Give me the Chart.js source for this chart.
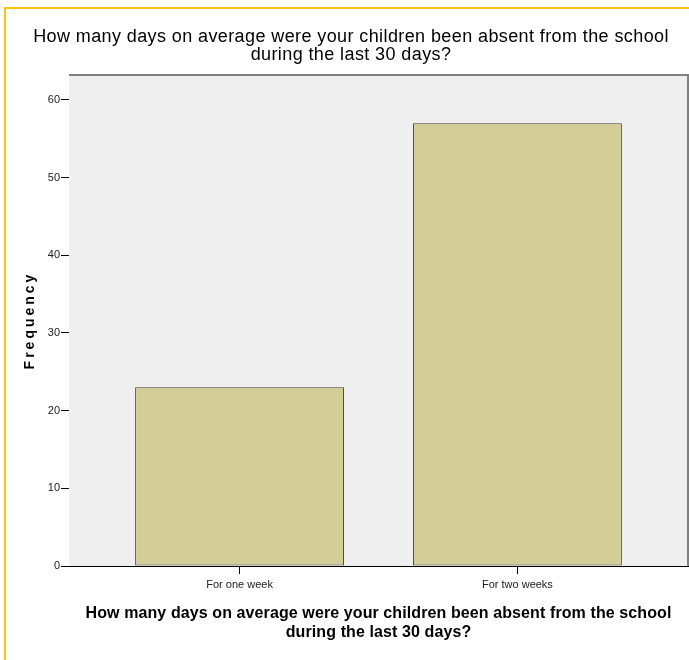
<!DOCTYPE html>
<html>
<head>
<meta charset="utf-8">
<script src="https://cdn.jsdelivr.net/npm/chart.js@4/dist/chart.umd.min.js"></script>
<style>
  html, body { margin: 0; padding: 0; background: #ffffff; overflow: hidden; width: 689px; height: 660px; }
  #wrap { position: relative; width: 703px; height: 660px; }
  #frame { position: absolute; left: 4px; top: 7px; width: 800px; height: 800px;
           border-left: 2px solid #FFC20E; border-top: 2px solid #FFC20E; pointer-events: none; }
  canvas { position: absolute; left: 0; top: 0; }
</style>
</head>
<body>
<div id="wrap">
  <canvas id="c" width="703" height="660"></canvas>
  <div id="frame"></div>
</div>
<script>
// ---- data ----
const categories = ['For one week', 'For two weeks'];
const frequencies = [23, 57];
const yTickValues = [0, 10, 20, 30, 40, 50, 60];
const chartTitle = ['How many days on average were your children been absent from the school', 'during the last 30 days?'];
const xAxisTitle = ['How many days on average were your children been absent from the school', 'during the last 30 days?'];
const yAxisTitle = 'Frequency';

const tickFont = { family: "'Liberation Sans', Arial, sans-serif", size: 11 };

function wrapSpacing(obj, spacing) {
  if (!obj || obj._lsWrapped) return;
  const orig = obj.draw;
  obj.draw = function () {
    const ctx = this.ctx;
    ctx.save();
    ctx.letterSpacing = spacing;
    orig.apply(this, arguments);
    ctx.restore();
  };
  obj._lsWrapped = true;
}

function wrapScaleTitle(scale, spacing) {
  if (!scale || scale._tWrapped) return;
  const orig = scale.drawTitle;
  scale.drawTitle = function () {
    const ctx = this.ctx;
    ctx.save();
    ctx.letterSpacing = spacing;
    orig.apply(this, arguments);
    ctx.restore();
  };
  scale._tWrapped = true;
}

const plotFrame = {
  id: 'plotFrame',
  beforeDatasetsDraw(chart) {
    const { ctx, chartArea: a } = chart;
    ctx.save();
    ctx.fillStyle = '#EFEFEF';
    ctx.fillRect(a.left, a.top, a.right - a.left, a.bottom - a.top);
    ctx.strokeStyle = '#808080';
    ctx.lineWidth = 2;
    ctx.beginPath();
    ctx.moveTo(a.left, a.top);
    ctx.lineTo(a.right, a.top);
    ctx.lineTo(a.right, a.bottom);
    ctx.stroke();
    ctx.restore();
  },
  afterLayout(chart) {
    wrapScaleTitle(chart.scales.y, '3px');
    wrapScaleTitle(chart.scales.x, '0.1px');
    wrapSpacing(chart.titleBlock, '0.4px');
  }
};

new Chart(document.getElementById('c'), {
  type: 'bar',
  data: {
    datasets: [{
      data: categories.map((c, i) => ({ x: i + 1, y: frequencies[i] })),
      backgroundColor: '#D3CE98',
      borderColor: '#404040',
      borderWidth: 1,
      borderSkipped: false,
      categoryPercentage: 1,
      barPercentage: 0.752
    }]
  },
  plugins: [plotFrame],
  options: {
    responsive: false,
    animation: false,
    devicePixelRatio: 1,
    layout: { padding: { left: 14, right: 15, top: 0, bottom: 0 } },
    plugins: {
      legend: { display: false },
      tooltip: { enabled: false },
      title: {
        display: true,
        text: chartTitle,
        color: '#000',
        font: { family: "'Liberation Sans', Arial, sans-serif", size: 18, weight: 'normal', lineHeight: 1.0 },
        padding: { top: 28.5, bottom: 10.5 }
      }
    },
    scales: {
      x: {
        type: 'linear',
        offset: false,
        min: 0.386,
        max: 2.614,
        afterBuildTicks(scale) { scale.ticks = categories.map((c, i) => ({ value: i + 1 })); },
        afterFit(scale) { scale.height = 94; },
        ticks: {
          callback: (v) => categories[v - 1] || '',
          color: '#222',
          font: tickFont,
          padding: 4,
          maxRotation: 0,
          autoSkip: false
        },
        grid: { offset: false, drawOnChartArea: false, drawTicks: true, tickLength: 8, color: '#000', lineWidth: 1 },
        border: { display: true, color: '#000', width: 1 },
        title: {
          display: true,
          text: xAxisTitle,
          color: '#000',
          font: { family: "'Liberation Sans', Arial, sans-serif", size: 16, weight: 'bold', lineHeight: 1.2 },
          padding: { top: 0, bottom: 18 }
        }
      },
      y: {
        min: 0,
        max: 63.2,
        afterBuildTicks(scale) { scale.ticks = yTickValues.map(v => ({ value: v })); },
        afterFit(scale) { scale.width = 55; },
        ticks: { color: '#222', font: tickFont, padding: 1 },
        grid: { drawOnChartArea: false, drawTicks: true, tickLength: 8, color: '#000', lineWidth: 1 },
        border: { display: true, color: '#000', width: 1 },
        title: {
          display: true,
          text: yAxisTitle,
          color: '#000',
          font: { family: "'Liberation Sans', Arial, sans-serif", size: 14, weight: 'bold', lineHeight: 1.2 },
          padding: { top: 7.6, bottom: 0 }
        }
      }
    }
  }
});
</script>
</body>
</html>
